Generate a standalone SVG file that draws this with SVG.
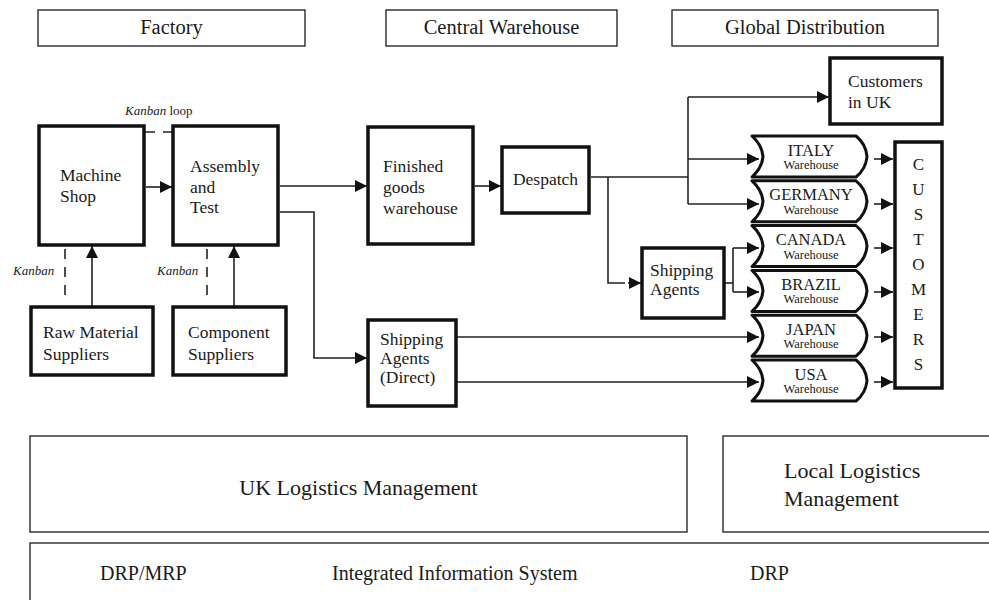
<svg xmlns="http://www.w3.org/2000/svg" width="989" height="600" viewBox="0 0 989 600" font-family="'Liberation Serif', 'Times New Roman', serif">
  <style>
    text { font-family: "Liberation Serif", "Times New Roman", Tinos, serif; fill: #1a1a1a; }
    .band { fill: #fff; stroke: #2a2a2a; stroke-width: 1.4; }
    .node { fill: #fff; stroke: #111; stroke-width: 3.5; }
    .wh { fill: #fff; stroke: #111; stroke-width: 3; stroke-linejoin: round; }
    .lbl { font-size: 17.5px; }
    .hdr { font-size: 20.5px; text-anchor: middle; }
    .big { font-size: 22px; }
    .sys { font-size: 20px; }
    .wn { font-size: 16.5px; text-anchor: middle; }
    .ws { font-size: 12.5px; text-anchor: middle; }
    .kb { font-size: 13px; }
    .cl { font-size: 17px; text-anchor: middle; }
    .ln { fill: none; stroke: #222; stroke-width: 1.6; }
    .dash { fill: none; stroke: #222; stroke-width: 1.6; stroke-dasharray: 10 8; }
    .arr { marker-end: url(#head); }
  </style>
  <defs>
    <marker id="head" markerUnits="userSpaceOnUse" markerWidth="13" markerHeight="12" refX="12" refY="6" orient="auto">
      <path d="M0,0 L12,6 L0,12 z" fill="#111"/>
    </marker>
    <path id="wh-shape" class="wh" d="M752,0 L856,0 Q866,8 867,20.5 Q866,33 856,41 L752,41 Q762,32 763,20.5 Q762,9 752,0 z"/>
  </defs>

  <!-- section headers -->
  <g id="hdr-factory"><rect class="band" x="38" y="10" width="267" height="36"/><text class="hdr" x="171.5" y="34">Factory</text></g>
  <g id="hdr-central"><rect class="band" x="386" y="10" width="231" height="36"/><text class="hdr" x="501.5" y="34">Central Warehouse</text></g>
  <g id="hdr-global"><rect class="band" x="672" y="10" width="266" height="36"/><text class="hdr" x="805" y="34">Global Distribution</text></g>

  <!-- connectors -->
  <g id="connectors">
    <line class="ln arr" x1="146" y1="187" x2="172" y2="187"/>
    <line class="dash" x1="145" y1="132" x2="173" y2="132"/>
    <line class="ln arr" x1="92" y1="306" x2="92" y2="246"/>
    <line class="ln arr" x1="234" y1="306" x2="234" y2="246"/>
    <line class="dash" x1="65" y1="249" x2="65" y2="296"/>
    <line class="dash" x1="207" y1="249" x2="207" y2="296"/>
    <line class="ln arr" x1="280" y1="186" x2="367" y2="186"/>
    <polyline class="ln arr" points="280,212 314,212 314,358 367,358"/>
    <line class="ln arr" x1="475" y1="186" x2="501" y2="186"/>
    <line class="ln" x1="591" y1="177" x2="688" y2="177"/>
    <line class="ln" x1="688" y1="97" x2="688" y2="204"/>
    <line class="ln arr" x1="688" y1="97" x2="829" y2="97"/>
    <line class="ln arr" x1="688" y1="159" x2="759" y2="159"/>
    <line class="ln arr" x1="688" y1="204" x2="759" y2="204"/>
    <polyline class="ln" points="608,177 608,283 625,283"/>
    <line class="ln arr" x1="628" y1="283" x2="641" y2="283"/>
    <line class="ln" x1="725" y1="283" x2="733" y2="283"/>
    <line class="ln" x1="733" y1="248" x2="733" y2="292"/>
    <line class="ln arr" x1="733" y1="248" x2="759" y2="248"/>
    <line class="ln arr" x1="733" y1="292" x2="759" y2="292"/>
    <line class="ln arr" x1="457" y1="337" x2="759" y2="337"/>
    <line class="ln arr" x1="457" y1="382" x2="759" y2="382"/>
    <line class="ln arr" x1="874" y1="159" x2="893" y2="159"/>
    <line class="ln arr" x1="874" y1="204" x2="893" y2="204"/>
    <line class="ln arr" x1="874" y1="248" x2="893" y2="248"/>
    <line class="ln arr" x1="874" y1="292" x2="893" y2="292"/>
    <line class="ln arr" x1="874" y1="337" x2="893" y2="337"/>
    <line class="ln arr" x1="874" y1="382" x2="893" y2="382"/>
  </g>

  <text class="kb" x="125" y="115"><tspan font-style="italic">Kanban</tspan> loop</text>
  <text class="kb" x="13" y="275" font-style="italic">Kanban</text>
  <text class="kb" x="157" y="275" font-style="italic">Kanban</text>

  <!-- factory nodes -->
  <g id="machine-shop"><rect class="node" x="39" y="126" width="105" height="119"/>
    <text class="lbl" x="60" y="181">Machine</text><text class="lbl" x="60" y="202">Shop</text></g>
  <g id="assembly-test"><rect class="node" x="173" y="126" width="105" height="119"/>
    <text class="lbl" x="190" y="172">Assembly</text><text class="lbl" x="190" y="193">and</text><text class="lbl" x="190" y="213">Test</text></g>
  <g id="raw-material"><rect class="node" x="31" y="307" width="122" height="68"/>
    <text class="lbl" x="43" y="338">Raw Material</text><text class="lbl" x="43" y="360">Suppliers</text></g>
  <g id="component"><rect class="node" x="173" y="307" width="113" height="68"/>
    <text class="lbl" x="188" y="338">Component</text><text class="lbl" x="188" y="360">Suppliers</text></g>

  <!-- central warehouse nodes -->
  <g id="finished-goods"><rect class="node" x="368" y="127" width="105" height="117"/>
    <text class="lbl" x="383" y="172">Finished</text><text class="lbl" x="383" y="193">goods</text><text class="lbl" x="383" y="214">warehouse</text></g>
  <g id="despatch"><rect class="node" x="502" y="147" width="87" height="66"/>
    <text class="lbl" x="545.5" y="185" text-anchor="middle">Despatch</text></g>
  <g id="shipping-direct"><rect class="node" x="368" y="320" width="88" height="86"/>
    <text class="lbl" x="380" y="345">Shipping</text><text class="lbl" x="380" y="364">Agents</text><text class="lbl" x="380" y="383">(Direct)</text></g>
  <g id="shipping-agents"><rect class="node" x="642" y="248" width="82" height="70"/>
    <text class="lbl" x="650" y="276">Shipping</text><text class="lbl" x="650" y="295">Agents</text></g>

  <!-- distribution nodes -->
  <g id="customers-uk"><rect class="node" x="830" y="58" width="112" height="66"/>
    <text class="lbl" x="848" y="87">Customers</text><text class="lbl" x="848" y="108">in UK</text></g>

  <g id="wh-italy" transform="translate(0,136)"><use href="#wh-shape"/>
    <text class="wn" x="811" y="19.5">ITALY</text><text class="ws" x="811" y="33">Warehouse</text></g>
  <g id="wh-germany" transform="translate(0,180.8)"><use href="#wh-shape"/>
    <text class="wn" x="811" y="19.5">GERMANY</text><text class="ws" x="811" y="33">Warehouse</text></g>
  <g id="wh-canada" transform="translate(0,225.6)"><use href="#wh-shape"/>
    <text class="wn" x="811" y="19.5">CANADA</text><text class="ws" x="811" y="33">Warehouse</text></g>
  <g id="wh-brazil" transform="translate(0,270.4)"><use href="#wh-shape"/>
    <text class="wn" x="811" y="19.5">BRAZIL</text><text class="ws" x="811" y="33">Warehouse</text></g>
  <g id="wh-japan" transform="translate(0,315.2)"><use href="#wh-shape"/>
    <text class="wn" x="811" y="19.5">JAPAN</text><text class="ws" x="811" y="33">Warehouse</text></g>
  <g id="wh-usa" transform="translate(0,360)"><use href="#wh-shape"/>
    <text class="wn" x="811" y="19.5">USA</text><text class="ws" x="811" y="33">Warehouse</text></g>

  <g id="customers"><rect class="node" x="895" y="142" width="47" height="246"/>
    <text class="cl" x="918.5" y="170">C</text><text class="cl" x="918.5" y="195">U</text><text class="cl" x="918.5" y="220">S</text>
    <text class="cl" x="918.5" y="245">T</text><text class="cl" x="918.5" y="270">O</text><text class="cl" x="918.5" y="295">M</text>
    <text class="cl" x="918.5" y="320">E</text><text class="cl" x="918.5" y="345">R</text><text class="cl" x="918.5" y="370">S</text></g>

  <!-- management layers -->
  <g id="uk-logistics"><rect class="band" x="30" y="436" width="657" height="96"/>
    <text class="big" x="358.5" y="495" text-anchor="middle">UK Logistics Management</text></g>
  <g id="local-logistics"><rect class="band" x="723" y="436" width="280" height="96"/>
    <text class="big" x="784" y="478">Local Logistics</text><text class="big" x="784" y="506">Management</text></g>
  <g id="info-system"><rect class="band" x="30" y="543" width="973" height="70"/>
    <text class="sys" x="100" y="580">DRP/MRP</text>
    <text class="sys" x="332" y="580">Integrated Information System</text>
    <text class="sys" x="750" y="580">DRP</text></g>
</svg>
